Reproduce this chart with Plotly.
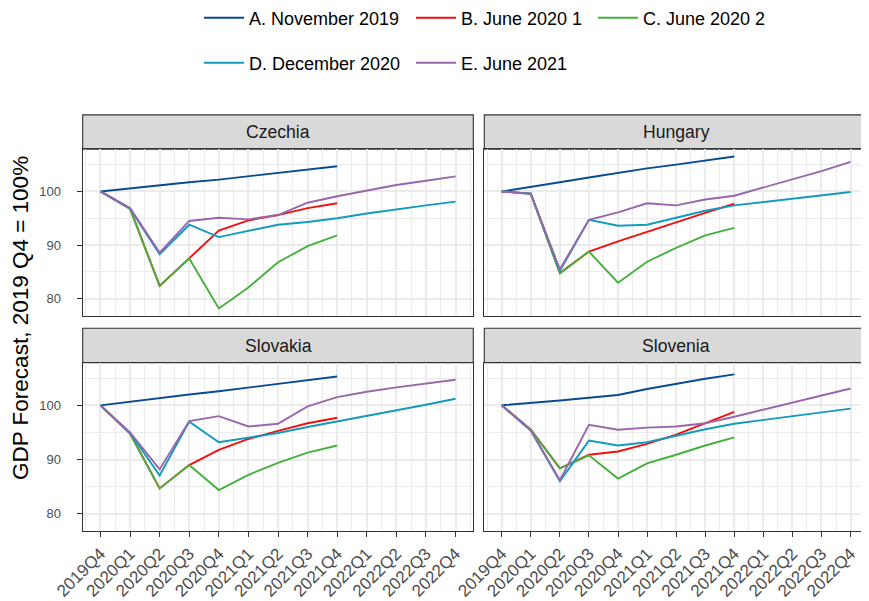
import plotly.graph_objects as go

# ---------------- data ----------------
quarters = ["2019Q4", "2020Q1", "2020Q2", "2020Q3", "2020Q4", "2021Q1", "2021Q2",
            "2021Q3", "2021Q4", "2022Q1", "2022Q2", "2022Q3", "2022Q4"]
vintages = ["A. November 2019", "B. June 2020 1", "C. June 2020 2",
            "D. December 2020", "E. June 2021"]
countries = ["Czechia", "Hungary", "Slovakia", "Slovenia"]

czechia_a = [100, 100.6, 101.2, 101.7, 102.2, 102.8, 103.4, 104.0, 104.7]
czechia_b = [100, 96.8, 82.4, 87.5, 92.7, 94.6, 95.6, 96.9, 97.8]
czechia_c = [100, 96.8, 82.4, 87.5, 78.2, 82.1, 86.8, 89.8, 91.8]
czechia_d = [100, 96.8, 88.3, 93.8, 91.5, 92.7, 93.8, 94.3, 95.0, 95.9, 96.7, 97.4, 98.1]
czechia_e = [100, 96.9, 88.6, 94.5, 95.1, 94.8, 95.6, 97.9, 99.1, 100.2, 101.2, 102.0, 102.8]

hungary_a = [100, 100.8, 101.7, 102.6, 103.5, 104.3, 105.0, 105.8, 106.5]
hungary_b = [100, 99.6, 84.8, 88.8, 90.7, 92.5, 94.3, 96.0, 97.7]
hungary_c = [100, 99.6, 84.7, 88.8, 83.0, 86.9, 89.5, 91.8, 93.2]
hungary_d = [100, 99.6, 85.2, 94.7, 93.6, 93.8, 95.1, 96.4, 97.4, 98.0, 98.6, 99.2, 99.9]
hungary_e = [100, 99.5, 85.5, 94.7, 96.1, 97.8, 97.4, 98.5, 99.2, 100.7, 102.2, 103.8, 105.5]

slovakia_a = [100, 100.7, 101.3, 102.0, 102.6, 103.3, 104.0, 104.6, 105.3]
slovakia_b = [100, 94.8, 84.7, 89.0, 91.8, 93.8, 95.3, 96.7, 97.7]
slovakia_c = [100, 94.8, 84.7, 89.0, 84.4, 87.2, 89.4, 91.3, 92.6]
slovakia_d = [100, 94.9, 87.1, 97.0, 93.2, 94.0, 94.9, 96.0, 97.0, 98.0, 99.1, 100.1, 101.2]
slovakia_e = [100, 95.0, 88.2, 97.1, 98.0, 96.1, 96.6, 99.8, 101.5, 102.5, 103.3, 104.0, 104.7]

slovenia_a = [100, 100.4, 100.9, 101.4, 101.9, 103.0, 104.0, 104.9, 105.7]
slovenia_b = [100, 95.5, 88.4, 90.9, 91.5, 92.9, 94.6, 96.7, 98.8]
slovenia_c = [100, 95.5, 88.4, 90.8, 86.5, 89.3, 90.9, 92.6, 94.1]
slovenia_d = [100, 95.3, 86.0, 93.5, 92.6, 93.2, 94.4, 95.6, 96.6, 97.3, 97.9, 98.6, 99.4]
slovenia_e = [100, 95.4, 86.2, 96.4, 95.5, 95.9, 96.1, 96.7, 97.9, 99.2, 100.4, 101.7, 103.1]

y_ticks = [80, 90, 100]
# --------------------------------------

series = {
    "Czechia": [czechia_a, czechia_b, czechia_c, czechia_d, czechia_e],
    "Hungary": [hungary_a, hungary_b, hungary_c, hungary_d, hungary_e],
    "Slovakia": [slovakia_a, slovakia_b, slovakia_c, slovakia_d, slovakia_e],
    "Slovenia": [slovenia_a, slovenia_b, slovenia_c, slovenia_d, slovenia_e],
}
colors = ["#0A4A91", "#F20F0F", "#46B03C", "#129BBD", "#9966AE"]

# the page body has an 8px margin: size the figure to the visible area
OFF = 8
W, H = 869 - OFF, 601 - OFF
FONT = "Liberation Sans, Arial, Helvetica, sans-serif"


def fx(px):
    return (px - OFF) / W


def fy(py):
    return 1 - (py - OFF) / H


# panel pixel geometry (screen pixels)
px_cols = [(82.7, 473.3), (484.3, 868.0)]
px_rows = [(149.3, 315.7), (362.7, 531.0)]
strip_h = 34.4

fig = go.Figure()
legend_names = ["legend", "legend2", "legend3", "legend4", "legend5"]
xpos = [x for x in range(len(quarters))]

for k, country in enumerate(countries):
    r, c = divmod(k, 2)
    ax = "" if k == 0 else str(k + 1)
    for j, name in enumerate(vintages):
        vals = series[country][j]
        fig.add_trace(go.Scatter(
            x=xpos[:len(vals)], y=vals, mode="lines", name=name,
            line=dict(color=colors[j], width=1.9),
            xaxis="x" + ax, yaxis="y" + ax,
            legend=legend_names[j], showlegend=(k == 0),
            hovertemplate="%{text}: %{y}<extra>" + name + "</extra>",
            text=quarters[:len(vals)],
        ))

    x0, x1 = px_cols[c]
    y0, y1 = px_rows[r]
    show_x = (r == 1)
    show_y = (c == 0)
    fig.update_layout(**{
        "xaxis" + ax: dict(
            domain=[fx(x0), min(fx(x1), 1.0)], anchor="y" + ax, range=[-0.6, 12.6],
            tickmode="array", tickvals=xpos, ticktext=quarters,
            showticklabels=show_x, tickangle=-45,
            ticks="outside" if show_x else "", ticklen=5, tickwidth=1.1,
            tickcolor="#333333",
            tickfont=dict(family=FONT, size=17, color="#4D4D4D"),
            showgrid=True, gridcolor="#EBEBEB", gridwidth=1.6,
            minor=dict(tickmode="linear", tick0=0.5, dtick=1, showgrid=True,
                       gridcolor="#EBEBEB", gridwidth=0.9, ticks=""),
            showline=True, mirror=True, linecolor="#333333", linewidth=1.1,
            zeroline=False, automargin=False, fixedrange=True,
        ),
        "yaxis" + ax: dict(
            domain=[fy(y1), fy(y0)], anchor="x" + ax, range=[76.85, 107.85],
            tickmode="array", tickvals=y_ticks,
            showticklabels=show_y,
            ticks="outside" if show_y else "", ticklen=5, tickwidth=1.1,
            tickcolor="#333333", ticklabelstandoff=13,
            tickfont=dict(family=FONT, size=13, color="#4D4D4D"),
            showgrid=True, gridcolor="#EBEBEB", gridwidth=1.6,
            minor=dict(tickmode="linear", tick0=0, dtick=5, showgrid=True,
                       gridcolor="#EBEBEB", gridwidth=0.9, ticks=""),
            showline=True, mirror=True, linecolor="#333333", linewidth=1.1,
            zeroline=False, automargin=False, fixedrange=True,
        ),
    })
    # strip
    fig.add_shape(type="rect", xref="paper", yref="paper",
                  x0=fx(x0), x1=min(fx(x1), 1.0), y0=fy(y0), y1=fy(y0 - strip_h),
                  fillcolor="#D9D9D9", line=dict(color="#333333", width=1.1),
                  layer="below")
    fig.add_annotation(text=country, xref="paper", yref="paper",
                       x=fx((x0 + x1) / 2), y=fy(y0 - strip_h / 2),
                       showarrow=False, xanchor="center", yanchor="middle",
                       font=dict(family=FONT, size=17.6, color="#1A1A1A"))

# y axis title
fig.add_annotation(text="GDP Forecast, 2019 Q4 = 100%", xref="paper", yref="paper",
                   x=fx(20), y=fy(318), textangle=-90, showarrow=False,
                   xanchor="center", yanchor="middle",
                   font=dict(family=FONT, size=22.5, color="#000000"))

# legends: one entry each, placed in a 3-column grid
leg_x = [199, 411, 593, 199, 411]
leg_y = [18, 18, 18, 63, 63]
for j, ln in enumerate(legend_names):
    fig.update_layout(**{ln: dict(
        orientation="h", xref="paper", yref="paper",
        x=fx(leg_x[j]), y=fy(leg_y[j]), xanchor="left", yanchor="middle",
        bgcolor="rgba(0,0,0,0)", borderwidth=0, itemwidth=40,
        font=dict(family=FONT, size=18, color="#000000"),
    )})

fig.update_layout(
    width=W, height=H,
    margin=dict(l=0, r=0, t=0, b=0, pad=0, autoexpand=False),
    paper_bgcolor="white", plot_bgcolor="white",
    font=dict(family=FONT),
    hovermode="closest",
)

fig.write_html("out.html")
